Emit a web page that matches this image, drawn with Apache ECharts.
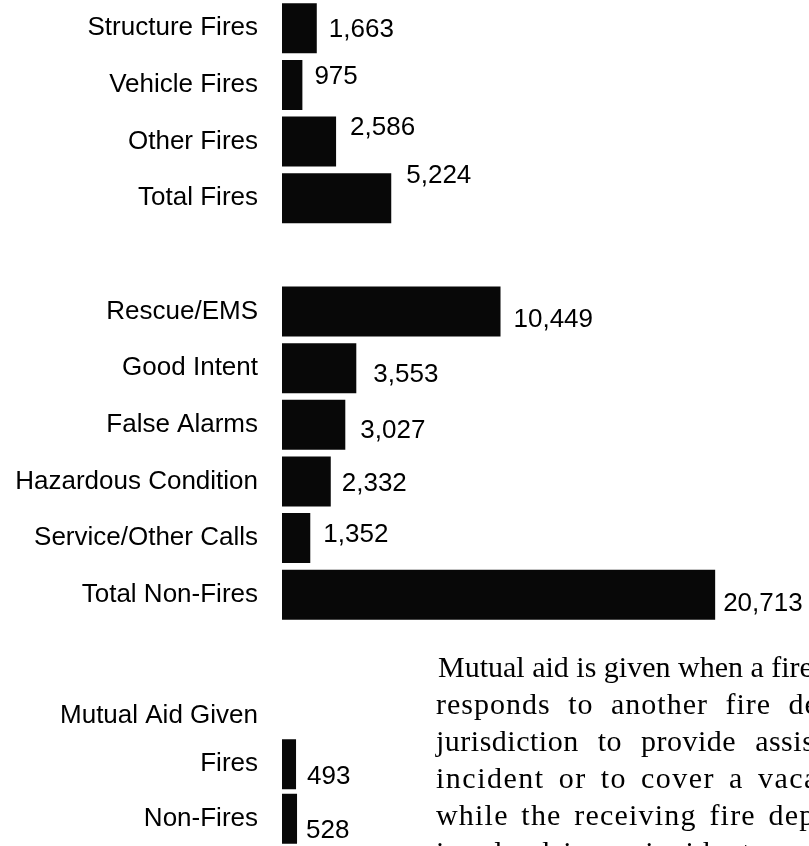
<!DOCTYPE html>
<html>
<head>
<meta charset="utf-8">
<script src="https://cdn.jsdelivr.net/npm/echarts@6/dist/echarts.min.js"></script>
<style>
  html, body { margin: 0; padding: 0; background: #fff; overflow: hidden; }
  #chart { position: absolute; left: 0; top: 0; width: 809px; height: 846px; }
  #note {
    position: absolute; left: 436px; top: 648px;
    font-family: "Liberation Serif", "Times New Roman", serif;
    font-size: 30px; line-height: 37px; color: #000; white-space: nowrap;
  }
</style>
</head>
<body>
<div id="chart"></div>
<div id="note">
  <div style="margin-left:2px; letter-spacing:0; word-spacing:0">Mutual aid is given when a fire department</div>
  <div style="letter-spacing:1px; word-spacing:9px">responds to another fire department's</div>
  <div style="letter-spacing:0.5px; word-spacing:11px">jurisdiction to provide assistance at an</div>
  <div style="letter-spacing:1.5px; word-spacing:5px">incident or to cover a vacant station</div>
  <div style="letter-spacing:1.2px; word-spacing:4px">while the receiving fire department is</div>
  <div style="letter-spacing:1.2px; word-spacing:4px">involved in an incident.</div>
</div>
<script>
// Incident counts by type (blank slot separates fires from non-fires)
const incidentTypes = [
  'Structure Fires', 'Vehicle Fires', 'Other Fires', 'Total Fires', '',
  'Rescue/EMS', 'Good Intent', 'False Alarms', 'Hazardous Condition',
  'Service/Other Calls', 'Total Non-Fires'
];
const incidentCounts = [1663, 975, 2586, 5224, null, 10449, 3553, 3027, 2332, 1352, 20713];

// Mutual aid given
const mutualAidTitle = 'Mutual Aid Given';
const mutualAidTypes = ['Fires', 'Non-Fires'];
const mutualAidCounts = [493, 528];

// Hand-placed value labels: [dx, dy] from the default spot right of each bar
const incidentLabelShift = [[2, 2], [2, -8], [4, -14], [5, -22], null, [3, 8], [7, 7], [5, 6], [1, 2], [3, -3], [-2, 9]];
const mutualAidLabelShift = [[1, 13], [-1, 12]];

const fmt = p => Number(p.value).toLocaleString('en-US');
const SANS = '"Liberation Sans", Arial, Helvetica, sans-serif';
const BAR = '#080808';
const FS = 26;

const incidentData = incidentCounts.map((v, i) =>
  v == null ? null : { value: v, label: { offset: incidentLabelShift[i] } });
const mutualAidData = mutualAidCounts.map((v, i) =>
  ({ value: v, label: { offset: mutualAidLabelShift[i] } }));

const catAxis = (gridIndex, data) => ({
  gridIndex, type: 'category', data, inverse: true,
  axisLine: { show: false }, axisTick: { show: false }, splitLine: { show: false },
  axisLabel: { color: '#000', fontSize: FS, fontFamily: SANS, margin: 24 }
});

const valueLabel = {
  show: true, position: 'right', distance: 10, formatter: fmt,
  color: '#000', fontSize: FS, fontFamily: SANS
};

const chart = echarts.init(document.getElementById('chart'), null, { renderer: 'canvas' });
chart.setOption({
  animation: false,
  backgroundColor: '#fff',
  grid: [
    { left: 282, top: 0, width: 527, height: 623 },
    { left: 282, top: 737, width: 527, height: 110 }
  ],
  xAxis: [
    { gridIndex: 0, type: 'value', min: 0, max: 25200, show: false },
    { gridIndex: 1, type: 'value', min: 0, max: 18500, show: false }
  ],
  yAxis: [catAxis(0, incidentTypes), catAxis(1, mutualAidTypes)],
  graphic: [
    {
      type: 'text', x: 258, y: 716,
      style: {
        text: mutualAidTitle, fill: '#000', font: FS + 'px ' + SANS,
        textAlign: 'right', textVerticalAlign: 'middle'
      }
    }
  ],
  series: [
    {
      type: 'bar', xAxisIndex: 0, yAxisIndex: 0, data: incidentData,
      barWidth: 50, itemStyle: { color: BAR }, label: valueLabel
    },
    {
      type: 'bar', xAxisIndex: 1, yAxisIndex: 1, data: mutualAidData,
      barWidth: 50, itemStyle: { color: BAR }, label: valueLabel
    }
  ]
});
</script>
</body>
</html>
